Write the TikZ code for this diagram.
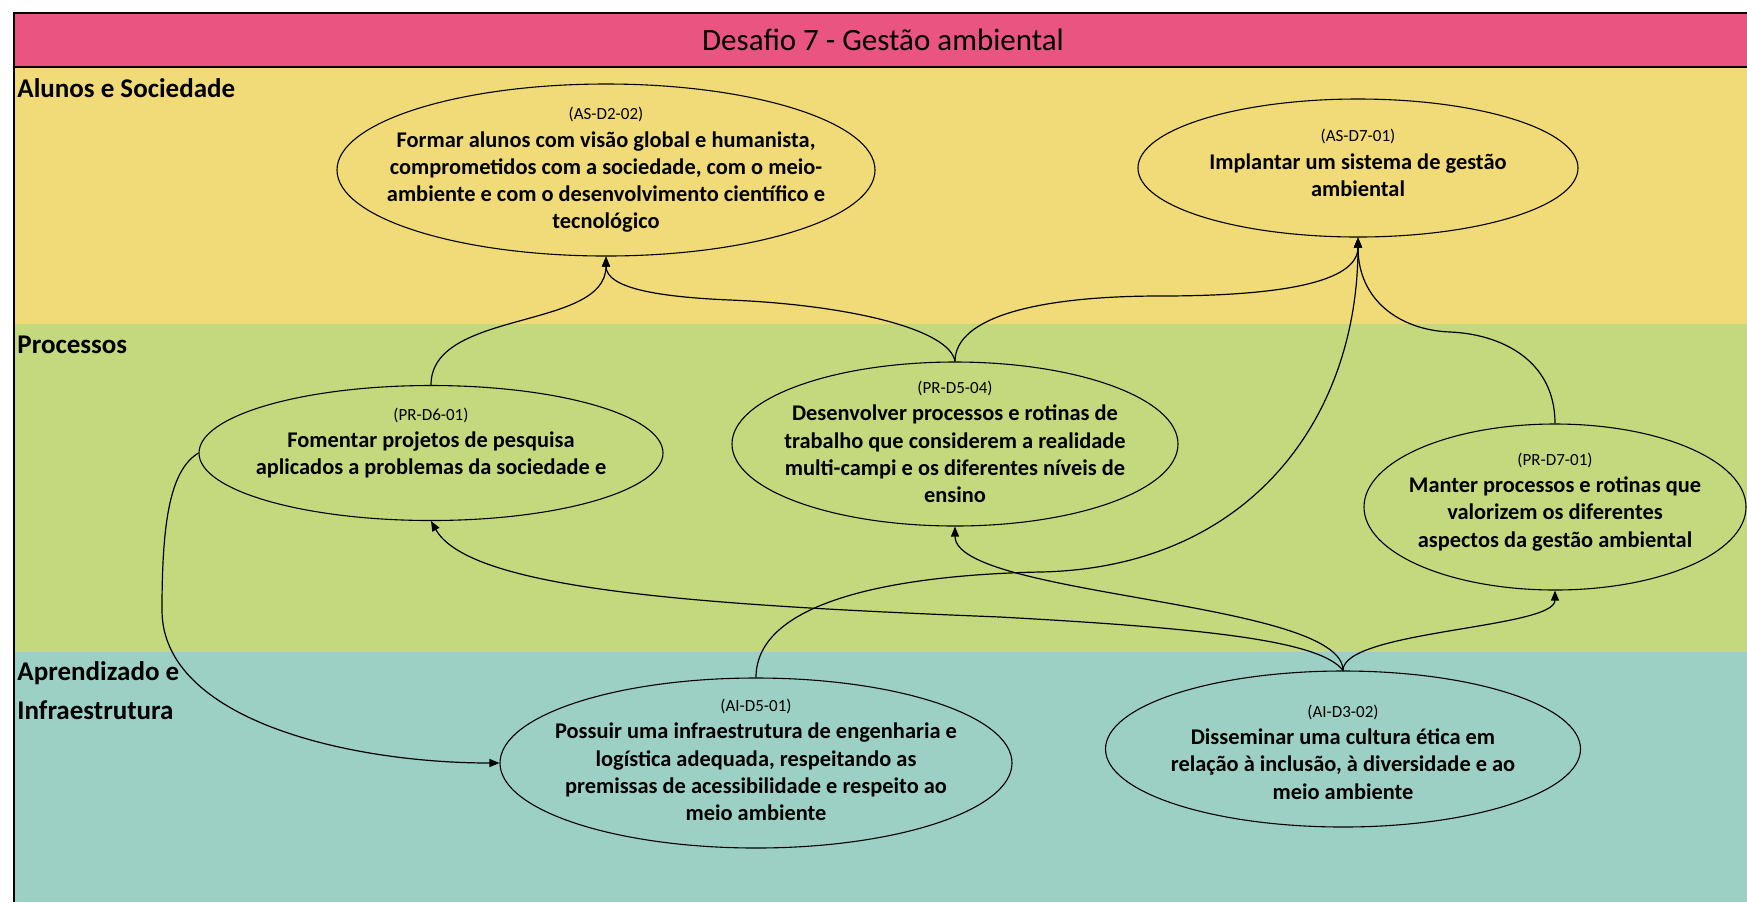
\documentclass[tikz,border=0pt]{standalone}
\usepackage{fontspec}
\setmainfont{Carlito}
\usetikzlibrary{shapes.geometric,arrows.meta}
\definecolor{cpink}{RGB}{233,85,128}
\definecolor{cyel}{RGB}{240,219,120}
\definecolor{cgrn}{RGB}{196,216,126}
\definecolor{cteal}{RGB}{156,208,196}
\newcommand{\bodyfnt}{\fontsize{11.2}{13.65}\selectfont\bfseries}
\newcommand{\labfnt}{\fontsize{8.5}{13.65}\selectfont\mdseries}
\newcommand{\layfnt}{\fontsize{13.5}{15}\selectfont\bfseries}
\newcommand{\titfnt}{\fontsize{15.5}{18}\selectfont}
\begin{document}
\begin{tikzpicture}[x=0.5pt,y=-0.5pt,
  ell/.style={ellipse,draw=black,line width=0.55pt,inner sep=0pt},
  txt/.style={align=center,inner sep=0pt,font=\bodyfnt},
  conn/.style={line width=0.6pt,-{Triangle[length=5pt,width=4pt]}},
  lay/.style={anchor=west,inner sep=0pt,font=\layfnt},
  border/.style={line width=0.8pt,draw=black}]
\useasboundingbox (0,0) rectangle (1747,902);
% bands
\fill[white] (0,0) rectangle (1747,902);
\fill[cpink] (14,12.7) rectangle (1747,67);
\fill[cyel] (14,67) rectangle (1747,324);
\fill[cgrn] (14,324) rectangle (1747,652);
\fill[cteal] (14,652) rectangle (1747,902);
\draw[border] (1747,12.7) -- (14,12.7) -- (14,902);
\draw[border] (14,67) -- (1747,67);
% title and layer labels
\node[font=\titfnt] (title) at (883,40) {Desafio 7 - Gestão ambiental};
\node[lay] (l1) at (17,88) {Alunos e Sociedade};
\node[lay] (l2) at (17,345) {Processos};
\node[lay] (l3) at (17,673) {Aprendizado e};
\node[lay] (l4) at (17,710) {Infraestrutura};
% ellipses
\node[ell,minimum width=269pt,minimum height=86pt] (as2) at (606,170) {};
\node[ell,minimum width=220pt,minimum height=69pt] (as7) at (1358,168) {};
\node[ell,minimum width=232pt,minimum height=67.5pt] (pr6) at (431,453) {};
\node[ell,minimum width=223pt,minimum height=82pt] (pr5) at (955,444) {};
\node[ell,minimum width=191pt,minimum height=83pt] (pr7) at (1555,507) {};
\node[ell,minimum width=256pt,minimum height=85pt] (ai5) at (756,763) {};
\node[ell,minimum width=237.5pt,minimum height=78pt] (ai3) at (1343,749) {};
% texts
\node[txt] (as2t) at (606,170) {{\labfnt (AS-D2-02)}\\Formar alunos com visão global e humanista,\\comprometidos com a sociedade, com o meio-\\ambiente e com o desenvolvimento científico e\\tecnológico};
\node[txt] (as7t) at (1358,163) {{\labfnt (AS-D7-01)}\\Implantar um sistema de gestão\\ambiental};
\node[txt] (pr6t) at (431,443) {{\labfnt (PR-D6-01)}\\Fomentar projetos de pesquisa\\aplicados a problemas da sociedade e};
\node[txt] (pr5t) at (955,442) {{\labfnt (PR-D5-04)}\\Desenvolver processos e rotinas de\\trabalho que considerem a realidade\\multi-campi e os diferentes níveis de\\ensino};
\node[txt] (pr7t) at (1555,502) {{\labfnt (PR-D7-01)}\\Manter processos e rotinas que\\valorizem os diferentes\\aspectos da gestão ambiental};
\node[txt] (ai5t) at (756,760) {{\labfnt (AI-D5-01)}\\Possuir uma infraestrutura de engenharia e\\logística adequada, respeitando as\\premissas de acessibilidade e respeito ao\\meio ambiente};
\node[txt] (ai3t) at (1343,752) {{\labfnt (AI-D3-02)}\\Disseminar uma cultura ética em\\relação à inclusão, à diversidade e ao\\meio ambiente};
% helper coordinates
\coordinate (c2m) at (730,300);
\coordinate (c3m) at (1160,296);
\coordinate (c4m) at (1450,332);
\coordinate (c5m) at (1040,572);
\coordinate (c8m) at (1000,617);
\coordinate (c9m) at (162,610);
% connectors
\draw[conn] (pr6.north) .. controls +(0,-76) and +(0,74) .. (as2.south);
\draw[conn] (pr5.north) .. controls +(-5,-32) and +(120,5) .. (c2m) .. controls +(-70,-3) and +(0,32) .. (as2.south);
\draw[conn] (pr5.north) .. controls +(0,-45) and +(-120,0) .. (c3m) .. controls +(120,0) and +(0,45) .. (as7.south);
\draw[conn] (pr7.north) .. controls +(0,-64) and +(50,2) .. (c4m) .. controls +(-50,-2) and +(0,63) .. (as7.south);
\draw[conn] (ai5.north) .. controls +(0,-78) and (900,575) .. (c5m) .. controls (1250,568) and +(0,180) .. (as7.south);
\draw[conn] (ai3.north) .. controls +(0,-40) and +(0,38) .. (pr7.south);
\draw[conn] (ai3.north) .. controls +(0,-70) and +(0,70) .. (pr5.south);
\draw[conn] (ai3.north) .. controls (1320,640) and (1200,628) .. (c8m) .. controls (700,605) and (470,590) .. (pr6.south);
\draw[conn] (pr6.west) .. controls +(-28,17) and +(0,-90) .. (c9m) .. controls +(0,110) and +(-150,0) .. (ai5.west);
\end{tikzpicture}
\end{document}
